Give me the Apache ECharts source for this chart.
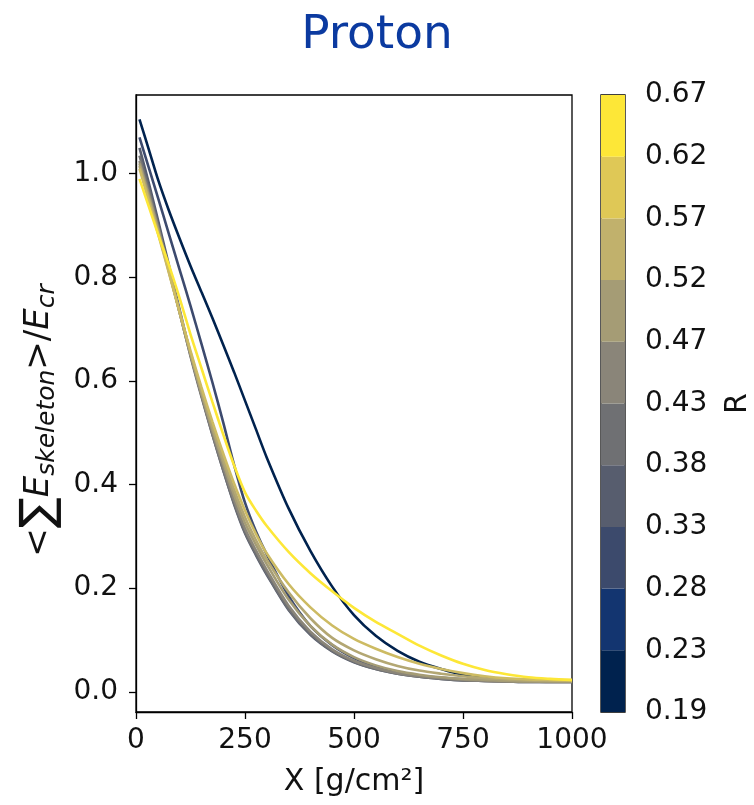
<!DOCTYPE html>
<html>
<head>
<meta charset="utf-8">
<script src="https://cdn.jsdelivr.net/npm/echarts@6/dist/echarts.min.js"></script>
<style>
  html, body {margin: 0; padding: 0; background: #fff;}
  #chart {width: 754px; height: 805px;}
</style>
</head>
<body>
<div id="chart"></div>
<script>
// depth in g/cm2
const depth = [8, 30, 50, 75, 100, 125, 150, 175, 200, 225, 250, 275, 300, 350, 400, 450, 500, 550, 600, 650, 700, 750, 800, 850, 900, 950, 1000];

// <sum E_skeleton>/E_cr, one curve per R bin
const r021 = [1.105, 1.045, 0.99, 0.93, 0.875, 0.822, 0.772, 0.722, 0.67, 0.617, 0.562, 0.507, 0.452, 0.354, 0.272, 0.203, 0.148, 0.108, 0.079, 0.058, 0.044, 0.033, 0.027, 0.024, 0.022, 0.021, 0.021];
const r030 = [1.07, 1.01, 0.955, 0.885, 0.815, 0.745, 0.672, 0.598, 0.52, 0.438, 0.365, 0.31, 0.265, 0.185, 0.127, 0.09, 0.065, 0.048, 0.038, 0.031, 0.027, 0.024, 0.022, 0.021, 0.02, 0.02, 0.02];
const r035 = [1.05, 0.98, 0.912, 0.825, 0.738, 0.652, 0.573, 0.498, 0.428, 0.362, 0.306, 0.264, 0.226, 0.158, 0.11, 0.078, 0.057, 0.044, 0.035, 0.029, 0.025, 0.022, 0.021, 0.02, 0.019, 0.019, 0.019];
const r040 = [1.035, 0.968, 0.903, 0.818, 0.733, 0.648, 0.57, 0.497, 0.428, 0.364, 0.308, 0.266, 0.228, 0.16, 0.112, 0.079, 0.058, 0.044, 0.035, 0.029, 0.025, 0.022, 0.021, 0.02, 0.019, 0.019, 0.019];
const r045 = [1.025, 0.96, 0.898, 0.815, 0.732, 0.65, 0.573, 0.501, 0.434, 0.37, 0.315, 0.273, 0.235, 0.166, 0.116, 0.082, 0.06, 0.046, 0.036, 0.03, 0.026, 0.023, 0.021, 0.02, 0.02, 0.019, 0.019];
const r050 = [1.02, 0.955, 0.895, 0.815, 0.733, 0.652, 0.577, 0.507, 0.442, 0.38, 0.326, 0.284, 0.246, 0.178, 0.127, 0.091, 0.067, 0.051, 0.04, 0.033, 0.028, 0.025, 0.023, 0.021, 0.02, 0.02, 0.02];
const r055 = [1.015, 0.95, 0.89, 0.812, 0.733, 0.655, 0.582, 0.513, 0.449, 0.39, 0.337, 0.293, 0.255, 0.192, 0.142, 0.104, 0.08, 0.063, 0.05, 0.041, 0.035, 0.03, 0.026, 0.024, 0.022, 0.021, 0.021];
const r060 = [1.01, 0.945, 0.886, 0.81, 0.733, 0.658, 0.588, 0.522, 0.46, 0.402, 0.35, 0.305, 0.267, 0.208, 0.163, 0.128, 0.102, 0.083, 0.067, 0.054, 0.044, 0.036, 0.03, 0.026, 0.024, 0.023, 0.022];
const r065 = [0.99, 0.935, 0.885, 0.825, 0.76, 0.69, 0.625, 0.56, 0.497, 0.437, 0.385, 0.35, 0.32, 0.27, 0.229, 0.194, 0.162, 0.135, 0.112, 0.089, 0.07, 0.054, 0.042, 0.034, 0.028, 0.025, 0.023];

const curves = [r021, r030, r035, r040, r045, r050, r055, r060, r065];
const curveColors = ['#00224e', '#3c4a6e', '#575d6e', '#6f7073', '#8a8579', '#a59c75', '#b3a773', '#cdbb63', '#fde737'];

// colorbar
const bandEdges = ['0.19', '0.23', '0.28', '0.33', '0.38', '0.43', '0.47', '0.52', '0.57', '0.62', '0.67'];
const bandColors = ['#00224e', '#133570', '#3c4a6c', '#575d6e', '#6f7073', '#8a8579', '#a59c75', '#c1b16c', '#dfc856', '#fde737'];

const yTicks = [0, 0.2, 0.4, 0.6, 0.8, 1.0];

const chart = echarts.init(document.getElementById('chart'));
const font = 'DejaVu Sans';
const ink = '#111';

const lineSeries = curves.map((ys, i) => ({
    type: 'line',
    xAxisIndex: 0,
    yAxisIndex: 0,
    data: depth.map((x, k) => [x, ys[k]]),
    showSymbol: false,
    smooth: 0.3,
    lineStyle: {color: curveColors[i], width: 2.6},
    silent: true
}));

const barSeries = bandColors.map(c => ({
    type: 'bar',
    xAxisIndex: 1,
    yAxisIndex: 1,
    stack: 'cb',
    data: [1],
    barWidth: '100%',
    itemStyle: {color: c},
    silent: true
}));

chart.setOption({
    animation: false,
    textStyle: {fontFamily: font},
    title: {
        text: 'Proton',
        left: 'center',
        top: 7,
        textStyle: {fontFamily: font, fontSize: 47, fontWeight: 'normal', color: '#0b3aa0'}
    },
    grid: [
        {left: 136, top: 95, width: 436, height: 617, show: true, borderColor: '#000', borderWidth: 1.3, backgroundColor: '#fff'},
        {left: 601, top: 95, width: 30, height: 617, show: true, borderColor: '#000', borderWidth: 1.3}
    ],
    xAxis: [
        {
            type: 'value', gridIndex: 0, min: 0, max: 1000, interval: 250,
            splitLine: {show: false},
            axisLine: {onZero: false, lineStyle: {color: '#000', width: 1.3}},
            axisTick: {length: 7, lineStyle: {color: '#000', width: 1.3}},
            axisLabel: {fontSize: 28, color: ink, margin: 15, fontFamily: font, formatter: v => String(v)},
            name: 'X [g/cm²]',
            nameLocation: 'middle',
            nameGap: 55,
            nameTextStyle: {fontSize: 30, color: ink, fontFamily: font}
        },
        {type: 'category', gridIndex: 1, data: ['R'], show: false}
    ],
    yAxis: [
        {
            type: 'value', gridIndex: 0, min: -0.039, max: 1.152,
            splitLine: {show: false},
            axisLine: {onZero: false, lineStyle: {color: '#000', width: 1.3}},
            axisTick: {length: 7, customValues: yTicks, lineStyle: {color: '#000', width: 1.3}},
            axisLabel: {fontSize: 28, color: ink, margin: 18, fontFamily: font, customValues: yTicks,
                formatter: v => v.toFixed(1)},
            name: '{n|<}{sum|∑}{it|E}{sub|skeleton}{n|>/}{it|E}{sub|cr}',
            nameLocation: 'middle',
            nameRotate: 90,
            nameGap: 72,
            nameTextStyle: {
                color: ink,
                padding: [0, 34, 0, 0],
                rich: {
                    n: {fontSize: 34, fontFamily: font, color: ink},
                    sum: {fontSize: 46, fontFamily: font, color: ink},
                    it: {fontSize: 34, fontStyle: 'italic', fontFamily: font, color: ink},
                    sub: {fontSize: 25, fontStyle: 'italic', fontFamily: font, color: ink, padding: [16, 0, 0, 0]}
                }
            }
        },
        {
            type: 'value', gridIndex: 1, min: 0, max: 10, interval: 1, position: 'right',
            splitLine: {show: false},
            axisLine: {lineStyle: {color: '#000', width: 1.3}},
            axisTick: {length: 6, lineStyle: {color: '#000', width: 1.3}},
            axisLabel: {fontSize: 28, color: ink, margin: 20, fontFamily: font,
                formatter: v => bandEdges[v]},
            name: 'R',
            nameLocation: 'middle',
            nameRotate: 90,
            nameGap: 98,
            nameTextStyle: {fontSize: 30, color: ink, fontFamily: font}
        }
    ],
    series: lineSeries.concat(barSeries)
});
</script>
</body>
</html>
